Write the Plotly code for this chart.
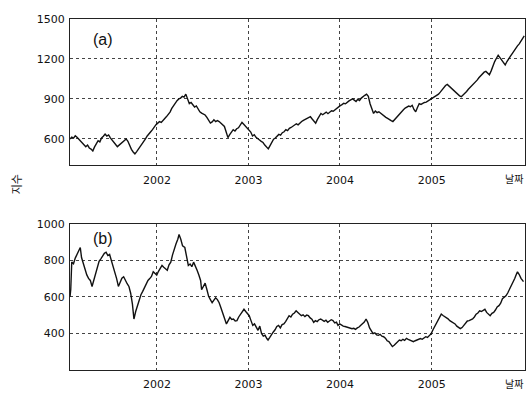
import plotly.graph_objects as go

# (a) composite index, weekly closes
index_a = [
    ("2001-01-19", 598), ("2001-01-26", 612), ("2001-02-02", 604), ("2001-02-09", 622),
    ("2001-02-16", 610), ("2001-02-23", 596), ("2001-03-02", 588), ("2001-03-09", 570),
    ("2001-03-16", 556), ("2001-03-23", 540), ("2001-03-30", 552), ("2001-04-06", 530),
    ("2001-04-13", 522), ("2001-04-20", 508), ("2001-04-27", 538), ("2001-05-04", 560),
    ("2001-05-11", 585), ("2001-05-18", 576), ("2001-05-25", 605), ("2001-06-01", 618),
    ("2001-06-08", 634), ("2001-06-15", 620), ("2001-06-22", 628), ("2001-06-29", 606),
    ("2001-07-06", 592), ("2001-07-13", 575), ("2001-07-20", 556), ("2001-07-27", 540),
    ("2001-08-03", 552), ("2001-08-10", 566), ("2001-08-17", 574), ("2001-08-24", 590),
    ("2001-08-31", 598), ("2001-09-07", 580), ("2001-09-14", 548), ("2001-09-21", 520),
    ("2001-09-28", 500), ("2001-10-05", 486), ("2001-10-12", 502), ("2001-10-19", 520),
    ("2001-10-26", 538), ("2001-11-02", 556), ("2001-11-09", 574), ("2001-11-16", 598),
    ("2001-11-23", 620), ("2001-11-30", 640), ("2001-12-07", 652), ("2001-12-14", 668),
    ("2001-12-21", 692), ("2001-12-28", 705),
    ("2002-01-04", 717), ("2002-01-11", 728), ("2002-01-18", 722), ("2002-01-25", 740),
    ("2002-02-01", 752), ("2002-02-08", 766), ("2002-02-15", 780), ("2002-02-22", 800),
    ("2002-03-01", 828), ("2002-03-08", 850), ("2002-03-15", 870), ("2002-03-22", 886),
    ("2002-03-29", 899), ("2002-04-05", 905), ("2002-04-12", 918), ("2002-04-19", 912),
    ("2002-04-26", 935), ("2002-05-03", 890), ("2002-05-10", 863), ("2002-05-17", 872),
    ("2002-05-24", 850), ("2002-05-31", 838), ("2002-06-07", 846), ("2002-06-14", 820),
    ("2002-06-21", 802), ("2002-06-28", 792), ("2002-07-05", 786), ("2002-07-12", 778),
    ("2002-07-19", 760), ("2002-07-26", 738), ("2002-08-02", 717), ("2002-08-09", 726),
    ("2002-08-16", 742), ("2002-08-23", 729), ("2002-08-30", 736), ("2002-09-06", 729),
    ("2002-09-13", 715), ("2002-09-20", 704), ("2002-09-27", 692), ("2002-10-04", 650),
    ("2002-10-11", 608), ("2002-10-18", 630), ("2002-10-25", 648), ("2002-11-01", 668),
    ("2002-11-08", 658), ("2002-11-15", 675), ("2002-11-22", 682), ("2002-11-29", 700),
    ("2002-12-06", 722), ("2002-12-13", 708), ("2002-12-20", 694), ("2002-12-27", 680),
    ("2003-01-03", 672), ("2003-01-10", 650), ("2003-01-17", 620), ("2003-01-24", 630),
    ("2003-01-31", 610), ("2003-02-07", 596), ("2003-02-14", 590), ("2003-02-21", 580),
    ("2003-02-28", 571), ("2003-03-07", 552), ("2003-03-14", 540), ("2003-03-21", 523),
    ("2003-03-28", 548), ("2003-04-04", 572), ("2003-04-11", 596), ("2003-04-18", 605),
    ("2003-04-25", 618), ("2003-05-02", 632), ("2003-05-09", 626), ("2003-05-16", 645),
    ("2003-05-23", 652), ("2003-05-30", 668), ("2003-06-06", 660), ("2003-06-13", 678),
    ("2003-06-20", 684), ("2003-06-27", 692), ("2003-07-04", 700), ("2003-07-11", 712),
    ("2003-07-18", 704), ("2003-07-25", 720), ("2003-08-01", 729), ("2003-08-08", 738),
    ("2003-08-15", 746), ("2003-08-22", 752), ("2003-08-29", 760), ("2003-09-05", 765),
    ("2003-09-12", 748), ("2003-09-19", 730), ("2003-09-26", 717), ("2003-10-03", 745),
    ("2003-10-10", 768), ("2003-10-17", 790), ("2003-10-24", 780), ("2003-10-31", 792),
    ("2003-11-07", 800), ("2003-11-14", 788), ("2003-11-21", 802), ("2003-11-28", 810),
    ("2003-12-05", 806), ("2003-12-12", 818), ("2003-12-19", 826), ("2003-12-26", 839),
    ("2004-01-02", 848), ("2004-01-09", 856), ("2004-01-16", 866), ("2004-01-23", 862),
    ("2004-01-30", 875), ("2004-02-06", 884), ("2004-02-13", 892), ("2004-02-20", 899),
    ("2004-02-27", 890), ("2004-03-05", 880), ("2004-03-12", 896), ("2004-03-19", 887),
    ("2004-03-26", 905), ("2004-04-02", 918), ("2004-04-09", 926), ("2004-04-16", 935),
    ("2004-04-23", 918), ("2004-04-30", 863), ("2004-05-07", 830), ("2004-05-14", 790),
    ("2004-05-21", 808), ("2004-05-28", 796), ("2004-06-04", 802), ("2004-06-11", 790),
    ("2004-06-18", 778), ("2004-06-25", 768), ("2004-07-02", 760), ("2004-07-09", 753),
    ("2004-07-16", 742), ("2004-07-23", 736), ("2004-07-30", 729), ("2004-08-06", 745),
    ("2004-08-13", 760), ("2004-08-20", 775), ("2004-08-27", 790), ("2004-09-03", 805),
    ("2004-09-10", 818), ("2004-09-17", 830), ("2004-09-24", 838), ("2004-10-01", 845),
    ("2004-10-08", 840), ("2004-10-15", 851), ("2004-10-22", 820), ("2004-10-29", 802),
    ("2004-11-05", 835), ("2004-11-12", 863), ("2004-11-19", 858), ("2004-11-26", 868),
    ("2004-12-03", 872), ("2004-12-10", 875), ("2004-12-17", 884), ("2004-12-24", 892),
    ("2004-12-31", 899),
    ("2005-01-07", 906), ("2005-01-14", 918), ("2005-01-21", 926), ("2005-01-28", 935),
    ("2005-02-04", 950), ("2005-02-11", 968), ("2005-02-18", 985), ("2005-02-25", 1000),
    ("2005-03-04", 1008), ("2005-03-11", 995), ("2005-03-18", 985), ("2005-03-25", 972),
    ("2005-04-01", 958), ("2005-04-08", 945), ("2005-04-15", 932), ("2005-04-22", 922),
    ("2005-04-29", 916), ("2005-05-06", 928), ("2005-05-13", 940), ("2005-05-20", 955),
    ("2005-05-27", 972), ("2005-06-03", 985), ("2005-06-10", 996), ("2005-06-17", 1008),
    ("2005-06-24", 1021), ("2005-07-01", 1040), ("2005-07-08", 1058), ("2005-07-15", 1075),
    ("2005-07-22", 1090), ("2005-07-29", 1100), ("2005-08-05", 1106), ("2005-08-12", 1092),
    ("2005-08-19", 1081), ("2005-08-26", 1110), ("2005-09-02", 1150), ("2005-09-09", 1180),
    ("2005-09-16", 1205), ("2005-09-23", 1227), ("2005-09-30", 1210), ("2005-10-07", 1190),
    ("2005-10-14", 1170), ("2005-10-21", 1154), ("2005-10-28", 1180), ("2005-11-04", 1205),
    ("2005-11-11", 1220), ("2005-11-18", 1240), ("2005-11-25", 1262), ("2005-12-02", 1280),
    ("2005-12-09", 1298), ("2005-12-16", 1313), ("2005-12-23", 1335), ("2005-12-30", 1356),
    ("2006-01-05", 1373),
]

# (b) secondary-market index, weekly closes
index_b = [
    ("2001-01-19", 600), ("2001-01-22", 640), ("2001-01-26", 790), ("2001-02-02", 781),
    ("2001-02-09", 812), ("2001-02-16", 835), ("2001-02-23", 852), ("2001-03-01", 870),
    ("2001-03-06", 815), ("2001-03-13", 780), ("2001-03-20", 746), ("2001-03-27", 720),
    ("2001-04-03", 701), ("2001-04-10", 690), ("2001-04-17", 657), ("2001-04-24", 690),
    ("2001-05-01", 730), ("2001-05-08", 760), ("2001-05-15", 795), ("2001-05-22", 808),
    ("2001-05-29", 826), ("2001-06-05", 838), ("2001-06-12", 844), ("2001-06-19", 826),
    ("2001-06-26", 832), ("2001-07-03", 799), ("2001-07-10", 770), ("2001-07-17", 746),
    ("2001-07-24", 700), ("2001-07-31", 657), ("2001-08-07", 680), ("2001-08-14", 702),
    ("2001-08-21", 710), ("2001-08-28", 688), ("2001-09-04", 672), ("2001-09-11", 657),
    ("2001-09-18", 620), ("2001-09-25", 560), ("2001-10-01", 479), ("2001-10-08", 520),
    ("2001-10-15", 556), ("2001-10-22", 580), ("2001-10-29", 612), ("2001-11-05", 630),
    ("2001-11-12", 650), ("2001-11-19", 675), ("2001-11-26", 690), ("2001-12-03", 700),
    ("2001-12-10", 712), ("2001-12-17", 737), ("2001-12-24", 728), ("2001-12-31", 719),
    ("2002-01-07", 740), ("2002-01-14", 756), ("2002-01-21", 772), ("2002-01-28", 762),
    ("2002-02-04", 755), ("2002-02-11", 746), ("2002-02-18", 775), ("2002-02-25", 790),
    ("2002-03-04", 830), ("2002-03-11", 865), ("2002-03-18", 890), ("2002-03-25", 915),
    ("2002-03-30", 941), ("2002-04-06", 915), ("2002-04-13", 879), ("2002-04-22", 870),
    ("2002-04-29", 820), ("2002-05-06", 772), ("2002-05-13", 780), ("2002-05-20", 765),
    ("2002-05-27", 790), ("2002-06-03", 770), ("2002-06-10", 746), ("2002-06-17", 720),
    ("2002-06-24", 690), ("2002-06-28", 639), ("2002-07-05", 655), ("2002-07-12", 675),
    ("2002-07-19", 640), ("2002-07-26", 603), ("2002-08-02", 585), ("2002-08-09", 568),
    ("2002-08-16", 582), ("2002-08-23", 595), ("2002-08-30", 585), ("2002-09-06", 568),
    ("2002-09-13", 540), ("2002-09-20", 510), ("2002-09-27", 480), ("2002-10-05", 452),
    ("2002-10-12", 470), ("2002-10-19", 488), ("2002-10-26", 476), ("2002-11-02", 479),
    ("2002-11-09", 468), ("2002-11-16", 470), ("2002-11-23", 490), ("2002-11-30", 506),
    ("2002-12-07", 518), ("2002-12-14", 532), ("2002-12-21", 520), ("2002-12-28", 505),
    ("2003-01-04", 497), ("2003-01-11", 470), ("2003-01-18", 444), ("2003-01-25", 452),
    ("2003-02-01", 430), ("2003-02-08", 417), ("2003-02-15", 440), ("2003-02-22", 400),
    ("2003-03-01", 385), ("2003-03-08", 390), ("2003-03-15", 372), ("2003-03-20", 364),
    ("2003-03-27", 378), ("2003-04-03", 395), ("2003-04-10", 408), ("2003-04-17", 420),
    ("2003-04-24", 438), ("2003-05-01", 444), ("2003-05-08", 430), ("2003-05-15", 448),
    ("2003-05-22", 452), ("2003-05-29", 465), ("2003-06-05", 480), ("2003-06-12", 497),
    ("2003-06-19", 490), ("2003-06-26", 505), ("2003-07-03", 512), ("2003-07-10", 524),
    ("2003-07-17", 515), ("2003-07-24", 505), ("2003-07-31", 497), ("2003-08-07", 502),
    ("2003-08-14", 492), ("2003-08-21", 500), ("2003-08-28", 497), ("2003-09-04", 485),
    ("2003-09-11", 478), ("2003-09-18", 461), ("2003-09-25", 470), ("2003-10-02", 465),
    ("2003-10-09", 475), ("2003-10-16", 479), ("2003-10-23", 470), ("2003-10-30", 466),
    ("2003-11-06", 472), ("2003-11-13", 461), ("2003-11-20", 468), ("2003-11-27", 475),
    ("2003-12-04", 470), ("2003-12-11", 458), ("2003-12-18", 462), ("2003-12-24", 444),
    ("2003-12-31", 452),
    ("2004-01-07", 445), ("2004-01-14", 440), ("2004-01-21", 438), ("2004-01-28", 435),
    ("2004-02-04", 432), ("2004-02-11", 430), ("2004-02-18", 426), ("2004-02-25", 428),
    ("2004-03-03", 422), ("2004-03-10", 430), ("2004-03-17", 435), ("2004-03-24", 445),
    ("2004-03-31", 452), ("2004-04-07", 462), ("2004-04-14", 479), ("2004-04-21", 460),
    ("2004-04-28", 430), ("2004-05-05", 410), ("2004-05-12", 399), ("2004-05-19", 403),
    ("2004-05-26", 392), ("2004-06-02", 390), ("2004-06-09", 395), ("2004-06-16", 385),
    ("2004-06-23", 382), ("2004-06-30", 374), ("2004-07-07", 360), ("2004-07-14", 355),
    ("2004-07-21", 342), ("2004-07-28", 328), ("2004-08-04", 335), ("2004-08-11", 346),
    ("2004-08-18", 355), ("2004-08-25", 364), ("2004-09-01", 360), ("2004-09-08", 368),
    ("2004-09-15", 362), ("2004-09-22", 373), ("2004-09-29", 368), ("2004-10-06", 365),
    ("2004-10-13", 358), ("2004-10-20", 355), ("2004-10-27", 360), ("2004-11-03", 365),
    ("2004-11-10", 370), ("2004-11-17", 372), ("2004-11-24", 368), ("2004-12-01", 374),
    ("2004-12-08", 382), ("2004-12-15", 378), ("2004-12-22", 386), ("2004-12-30", 399),
    ("2005-01-06", 420), ("2005-01-13", 440), ("2005-01-20", 461), ("2005-01-27", 480),
    ("2005-02-03", 495), ("2005-02-08", 506), ("2005-02-15", 498), ("2005-02-22", 492),
    ("2005-02-28", 488), ("2005-03-07", 480), ("2005-03-14", 470), ("2005-03-21", 465),
    ("2005-03-28", 461), ("2005-04-04", 452), ("2005-04-11", 440), ("2005-04-18", 434),
    ("2005-04-25", 426), ("2005-05-02", 432), ("2005-05-09", 445), ("2005-05-16", 455),
    ("2005-05-23", 468), ("2005-05-30", 470), ("2005-06-06", 475), ("2005-06-13", 479),
    ("2005-06-20", 490), ("2005-06-27", 505), ("2005-07-04", 512), ("2005-07-11", 524),
    ("2005-07-18", 520), ("2005-07-25", 528), ("2005-08-01", 532), ("2005-08-08", 515),
    ("2005-08-15", 505), ("2005-08-22", 497), ("2005-08-29", 510), ("2005-09-05", 515),
    ("2005-09-12", 528), ("2005-09-19", 545), ("2005-09-26", 552), ("2005-10-03", 565),
    ("2005-10-10", 590), ("2005-10-17", 598), ("2005-10-24", 606), ("2005-10-31", 621),
    ("2005-11-07", 640), ("2005-11-14", 660), ("2005-11-21", 675), ("2005-11-28", 700),
    ("2005-12-05", 725), ("2005-12-09", 737), ("2005-12-16", 722), ("2005-12-23", 701),
    ("2006-01-02", 683),
]

year_ticks = ["2002-01-01", "2003-01-01", "2004-01-01", "2005-01-01"]
year_labels = ["2002", "2003", "2004", "2005"]
ticks_a = [600, 900, 1200, 1500]
ticks_b = [400, 600, 800, 1000]
x_span = ["2001-01-19", "2006-01-08"]

TICK_FONT = "DejaVu Sans, sans-serif"
KR_FONT = "Noto Sans CJK KR"
line_style = dict(color="#111111", width=1.4)

fig = go.Figure()
fig.add_trace(go.Scatter(x=[d for d, _ in index_a], y=[v for _, v in index_a],
                         mode="lines", line=line_style, xaxis="x", yaxis="y"))
fig.add_trace(go.Scatter(x=[d for d, _ in index_b], y=[v for _, v in index_b],
                         mode="lines", line=line_style, xaxis="x2", yaxis="y2"))

axis_common = dict(showline=True, mirror=True, linecolor="#222222", linewidth=1.2,
                   showgrid=True, gridcolor="#444444", griddash="dot", gridwidth=1,
                   zeroline=False, ticks="",
                   tickfont=dict(family=TICK_FONT, size=11, color="#111111"))

fig.update_layout(
    width=532, height=397,
    margin=dict(l=70, r=6, t=19, b=18),
    paper_bgcolor="white", plot_bgcolor="white",
    showlegend=False,
    xaxis=dict(domain=[0, 1], range=x_span, type="date", anchor="y",
               tickvals=year_ticks, ticktext=year_labels, ticklabelstandoff=4, **axis_common),
    yaxis=dict(domain=[0.5833, 1], range=[400, 1500], anchor="x",
               tickvals=ticks_a, ticklabelstandoff=2, **axis_common),
    xaxis2=dict(domain=[0, 1], range=x_span, type="date", anchor="y2",
                tickvals=year_ticks, ticktext=year_labels, ticklabelstandoff=4, **axis_common),
    yaxis2=dict(domain=[0, 0.4167], range=[200, 1000], anchor="x2",
                tickvals=ticks_b, ticklabelstandoff=2, **axis_common),
    annotations=[
        dict(text="(a)", xref="paper", yref="paper", x=0.072, y=0.942,
             xanchor="center", yanchor="middle", showarrow=False,
             font=dict(family="Liberation Sans, Arial, sans-serif", size=16, color="#111111")),
        dict(text="(b)", xref="paper", yref="paper", x=0.072, y=0.376,
             xanchor="center", yanchor="middle", showarrow=False,
             font=dict(family="Liberation Sans, Arial, sans-serif", size=16, color="#111111")),
        dict(text="날짜", xref="paper", yref="paper", x=0.976, y=0.5833, yshift=-13,
             xanchor="center", yanchor="middle", showarrow=False,
             font=dict(family=KR_FONT, size=10, color="#111111")),
        dict(text="날짜", xref="paper", yref="paper", x=0.976, y=0.0, yshift=-13,
             xanchor="center", yanchor="middle", showarrow=False,
             font=dict(family=KR_FONT, size=10, color="#111111")),
        dict(text="지수", xref="paper", yref="paper", x=-0.118, y=0.53, textangle=-90,
             xanchor="center", yanchor="middle", showarrow=False,
             font=dict(family=KR_FONT, size=11, color="#111111")),
    ],
)

fig.write_html("out.html")
